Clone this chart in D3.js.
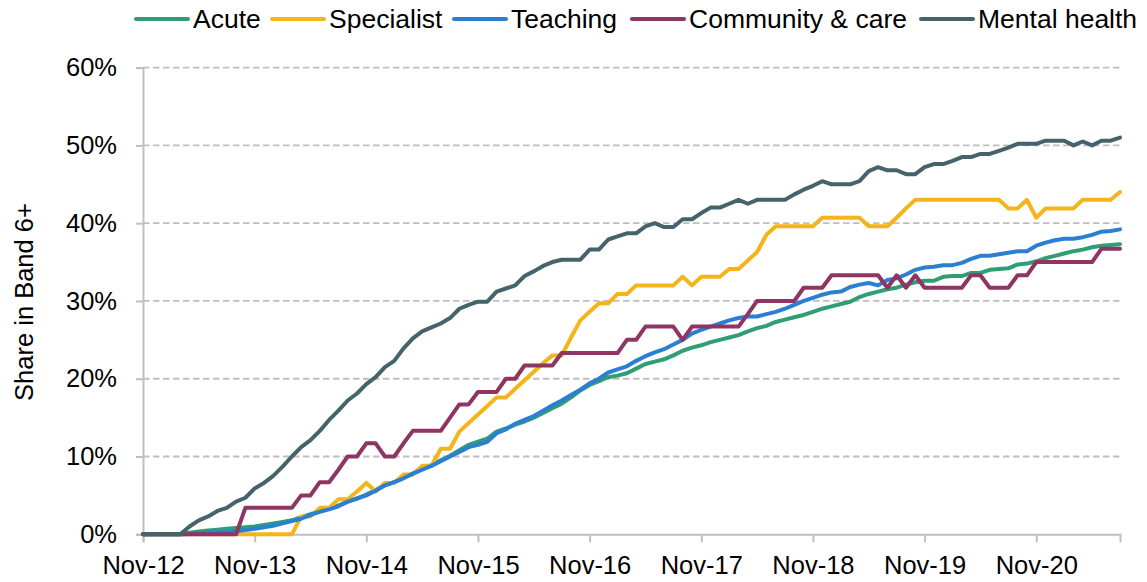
<!DOCTYPE html>
<html>
<head>
<meta charset="utf-8">
<script src="https://cdn.jsdelivr.net/npm/d3@7"></script>
<style>
  body { margin: 0; background: #fff; }
  svg { font-family: "Liberation Sans", Arial, sans-serif; }
</style>
</head>
<body>
<svg id="chart"></svg>
<script>
// monthly, Nov-12 .. Aug-21 (106 points), share in band 6+ (%)
var seriesNames = ["Acute", "Specialist", "Teaching", "Community & care", "Mental health"];
var seriesColors = ["#2f9e72", "#f4b41a", "#2b7fd3", "#8e3563", "#44636b"];

var acute = [0,0,0,0,0,0.2,0.35,0.5,0.6,0.7,0.8,0.9,1.0,1.2,1.4,1.6,1.8,2.2,2.6,3.0,
  3.3,3.7,4.2,4.6,5.1,5.7,6.3,6.7,7.3,7.8,8.4,8.9,9.5,10.1,10.8,11.5,11.9,12.3,13.2,13.6,
  14.1,14.5,15.0,15.6,16.2,16.8,17.6,18.5,19.2,19.7,20.2,20.4,20.7,21.3,21.9,22.2,22.5,23.0,23.6,24.0,
  24.3,24.7,25.0,25.3,25.6,26.1,26.5,26.8,27.3,27.6,27.9,28.2,28.6,29.0,29.3,29.6,29.9,30.5,30.9,31.2,
  31.5,31.7,32.1,32.4,32.6,32.6,33.1,33.2,33.2,33.6,33.6,34.0,34.1,34.2,34.7,34.8,35.1,35.5,35.8,36.1,
  36.4,36.6,36.9,37.1,37.2,37.3];

var specialist = [0,0,0,0,0,0,0,0,0,0,0,0,0,0,0,0,0,2.3,2.3,3.4,
  3.4,4.5,4.5,5.5,6.6,5.5,6.6,6.6,7.7,7.7,8.8,8.8,11.0,11.0,13.2,14.3,15.4,16.5,17.6,17.6,
  18.7,19.8,20.9,22.0,23.0,23.0,25.3,27.5,28.6,29.7,29.7,30.9,30.9,32.0,32.0,32.0,32.0,32.0,33.1,32.0,
  33.1,33.1,33.1,34.1,34.1,35.2,36.3,38.5,39.6,39.6,39.6,39.6,39.6,40.7,40.7,40.7,40.7,40.7,39.6,39.6,
  39.6,40.7,41.9,43.0,43.0,43.0,43.0,43.0,43.0,43.0,43.0,43.0,43.0,41.9,41.9,43.0,40.7,41.9,41.9,41.9,
  41.9,43.0,43.0,43.0,43.0,44.0];

var teaching = [0,0,0,0,0,0.05,0.1,0.2,0.25,0.3,0.4,0.55,0.7,0.9,1.1,1.4,1.7,2.0,2.5,2.9,
  3.2,3.6,4.2,4.6,5.0,5.6,6.3,6.7,7.2,7.8,8.3,8.8,9.4,10.0,10.6,11.2,11.5,11.9,13.0,13.5,
  14.2,14.7,15.2,15.9,16.6,17.2,17.9,18.6,19.4,20.0,20.8,21.2,21.6,22.3,22.9,23.4,23.8,24.4,25.0,25.8,
  26.3,26.7,27.1,27.5,27.8,28.0,28.0,28.3,28.6,29.0,29.5,30.0,30.4,30.8,31.1,31.2,31.8,32.1,32.3,32.0,
  32.7,32.9,33.4,34.0,34.3,34.4,34.6,34.6,34.9,35.4,35.8,35.8,36.0,36.2,36.4,36.4,37.1,37.5,37.8,38.0,
  38.0,38.2,38.5,38.9,39.0,39.2];

var community = [0,0,0,0,0,0,0,0,0,0,0,3.4,3.4,3.4,3.4,3.4,3.4,5.0,5.0,6.7,
  6.7,8.3,10.0,10.0,11.7,11.7,10.0,10.0,11.7,13.3,13.3,13.3,13.3,15.0,16.7,16.7,18.3,18.3,18.3,20.0,
  20.0,21.7,21.7,21.7,21.7,23.3,23.3,23.3,23.3,23.3,23.3,23.3,25.0,25.0,26.7,26.7,26.7,26.7,25.0,26.7,
  26.7,26.7,26.7,26.7,26.7,28.3,30.0,30.0,30.0,30.0,30.0,31.7,31.7,31.7,33.3,33.3,33.3,33.3,33.3,33.3,
  31.7,33.3,31.7,33.3,31.7,31.7,31.7,31.7,31.7,33.3,33.3,31.7,31.7,31.7,33.3,33.3,35.0,35.0,35.0,35.0,
  35.0,35.0,35.0,36.7,36.7,36.7];

var mental = [0,0,0,0,0,1.0,1.8,2.3,3.0,3.4,4.2,4.7,5.9,6.6,7.5,8.7,10.0,11.2,12.1,13.3,
  14.7,15.9,17.2,18.1,19.3,20.2,21.5,22.3,23.9,25.2,26.1,26.6,27.1,27.8,29.0,29.5,29.9,29.9,31.2,31.6,
  32.0,33.2,33.8,34.5,35.0,35.3,35.3,35.3,36.6,36.6,37.9,38.3,38.7,38.7,39.6,40.0,39.5,39.5,40.5,40.5,
  41.3,42.0,42.0,42.5,43.0,42.5,43.0,43.0,43.0,43.0,43.7,44.3,44.8,45.4,45.0,45.0,45.0,45.4,46.7,47.2,
  46.8,46.8,46.3,46.3,47.2,47.6,47.6,48.0,48.5,48.5,48.9,48.9,49.3,49.7,50.2,50.2,50.2,50.6,50.6,50.6,
  50.0,50.5,50.0,50.6,50.6,51.0];

var yTicks = [0, 10, 20, 30, 40, 50, 60];
var xTickLabels = ["Nov-12","Nov-13","Nov-14","Nov-15","Nov-16","Nov-17","Nov-18","Nov-19","Nov-20"];

var allSeries = [acute, specialist, teaching, community, mental];
var months = d3.timeMonth.range(new Date(2012, 10, 1), new Date(2021, 8, 1)).map(d3.timeFormat("%b-%y"));

var width = 1147, height = 582;
var plotLeft = 143, plotRight = 1120, plotTop = 67.6, plotBottom = 534.3;

var svg = d3.select("#chart").attr("width", width).attr("height", height);

var x = d3.scalePoint().domain(months).range([plotLeft, plotRight]);
var y = d3.scaleLinear().domain([0, 60]).range([plotBottom, plotTop]);

// gridlines
svg.append("g")
  .selectAll("line")
  .data(yTicks.slice(1))
  .enter().append("line")
  .attr("x1", plotLeft).attr("x2", plotRight)
  .attr("y1", function (d) { return y(d) }).attr("y2", function (d) { return y(d) })
  .attr("stroke", "#bfbfbf")
  .attr("stroke-width", 1.8)
  .attr("stroke-dasharray", "6.5,3.5");

// y axis
var yAxis = svg.append("g")
  .attr("transform", "translate(" + plotLeft + ",0)")
  .call(d3.axisLeft(y).tickValues(yTicks).tickSize(7).tickPadding(19)
    .tickFormat(function (d) { return d + "%" }));

// x axis
var xAxis = svg.append("g")
  .attr("transform", "translate(0," + plotBottom + ")")
  .call(d3.axisBottom(x).tickValues(xTickLabels).tickSize(8).tickPadding(14));

[yAxis, xAxis].forEach(function (a) {
  a.select(".domain").attr("stroke", "#bfbfbf").attr("stroke-width", 2);
  a.selectAll(".tick line").attr("stroke", "#bfbfbf").attr("stroke-width", 2);
  a.selectAll("text").attr("fill", "#000").style("font-size", "25.5px")
    .style("font-family", "'Liberation Sans', Arial, sans-serif");
});

// y title
svg.append("text")
  .attr("transform", "translate(33,302) rotate(-90)")
  .attr("text-anchor", "middle")
  .style("font-size", "25.5px")
  .text("Share in Band 6+");

// lines
var line = d3.line()
  .x(function (d, i) { return x(months[i]) })
  .y(function (d) { return y(d) });

svg.append("g")
  .selectAll("path")
  .data(allSeries)
  .enter().append("path")
  .attr("d", line)
  .attr("fill", "none")
  .attr("stroke", function (d, i) { return seriesColors[i] })
  .attr("stroke-width", 4)
  .attr("stroke-linejoin", "round")
  .attr("stroke-linecap", "round");

// legend
var legendX = [136, 272, 454, 632, 921];
var legend = svg.append("g").selectAll("g")
  .data(seriesNames)
  .enter().append("g")
  .attr("transform", function (d, i) { return "translate(" + legendX[i] + ",19)" });

legend.append("line")
  .attr("x1", 0).attr("x2", 52)
  .attr("stroke", function (d, i) { return seriesColors[i] })
  .attr("stroke-width", 4)
  .attr("stroke-linecap", "round");

legend.append("text")
  .attr("x", 57)
  .attr("y", 9)
  .style("font-size", "26.5px")
  .text(function (d) { return d });
</script>
</body>
</html>
